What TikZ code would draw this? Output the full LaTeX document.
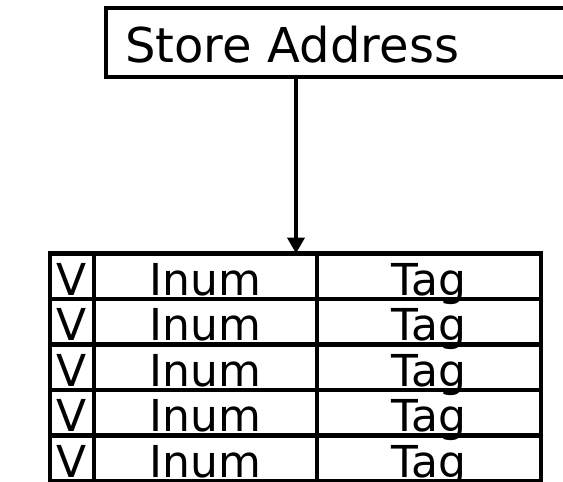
\documentclass[tikz,border=0pt]{standalone}
\usepackage{fontspec}
\setmainfont{DejaVu Sans}
\usepackage{tikz}
\usetikzlibrary{positioning,arrows.meta,calc}
\tikzset{
  addr/.style={rectangle, draw=black, line width=4.5pt, fill=white, outer sep=0pt,
               minimum height=69pt, text width=450pt, inner xsep=19pt,
               text height=39pt, text depth=0pt,
               align=left, font=\fontsize{48}{54}\selectfont},
  cell/.style={rectangle, draw=black, line width=4.5pt, outer sep=0pt,
               minimum height=45.5pt, inner sep=0pt,
               text height=37.5pt, text depth=0pt,
               font=\fontsize{44}{50}\selectfont},
  vcell/.style={cell, minimum width=44pt},
  icell/.style={cell, minimum width=223pt},
  tcell/.style={cell, minimum width=224pt},
  flow/.style={-{Triangle[length=16pt,width=17pt]}, line width=4.5pt},
}

\begin{document}
\begin{tikzpicture}[x=1pt, y=-1pt]
  \useasboundingbox (0,0) rectangle (563,482);

  \node[addr, anchor=north west] (addr) at (106,8) {Store Address};

  % table of entries
  \foreach \r in {1,...,5} {
    \node[vcell, anchor=north west] (v\r) at (50,{253.5+45.5*(\r-1)}) {V};
    \node[icell, anchor=north west] (inum\r) at (v\r.north east) {Inum};
    \node[tcell, anchor=north west] (tag\r) at (inum\r.north east) {Tag};
  }

  \coordinate (tap) at ($(addr.south west)+(190pt,0pt)$);
  \draw[flow] (tap) -- (tap |- inum1.north);
\end{tikzpicture}
\end{document}
